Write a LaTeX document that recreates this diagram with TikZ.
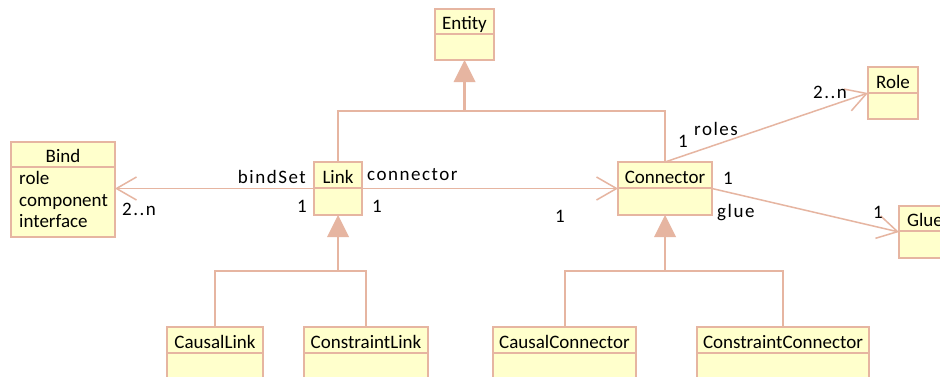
\documentclass[tikz,border=0pt]{standalone}
\usepackage{fontspec}
\setmainfont{Carlito}
\newfontfamily\lblfont[LetterSpace=8]{Carlito}
\usetikzlibrary{arrows.meta}
\definecolor{edgecol}{HTML}{E6B5A1}
\definecolor{boxfill}{HTML}{FFFFCC}
\tikzset{
 clsbox/.style={draw=edgecol, fill=boxfill, line width=1.8pt, inner sep=0pt, outer sep=0pt},
 divline/.style={draw=edgecol, line width=1.8pt},
 clstext/.style={font=\fontsize{19}{22}\selectfont, inner sep=0pt, anchor=base},
 attrtext/.style={font=\fontsize{19}{22}\selectfont, inner sep=0pt, anchor=base west},
 lbl/.style={font=\fontsize{19}{22}\selectfont\lblfont, inner sep=0pt},
 assoc/.style={draw=edgecol, line width=1.5pt, -{Straight Barb[length=20pt,width=23pt,line width=1.5pt]}},
 genbar/.style={draw=edgecol, line width=2pt},
 genstem/.style={draw=edgecol, line width=2.8pt},
 gentri/.style={fill=edgecol},
}
\newcommand{\umlclass}[7]{%
 \node[clsbox, minimum width=#4pt, minimum height=#5pt] (#1) at ({#2+#4/2},{#3+#5/2}) {};
 \draw[divline] ({#2},{#3+#6}) -- ({#2+#4},{#3+#6});
 \node[clstext] (#1-title) at ({#2+#4/2},{#3+#6-5}) {#7};
}
\begin{document}
\begin{tikzpicture}[x=1pt,y=-1pt]
\useasboundingbox (0,0) rectangle (940,376);
\clip (0,0) rectangle (940,376);
\fill[white] (0,0) rectangle (940,376);

\umlclass{entity}{435}{9}{59}{51}{25}{Entity}
\umlclass{link}{314}{162}{48}{53}{26}{Link}
\umlclass{connector}{618}{162}{94}{53}{26}{Connector}
\umlclass{bind}{11}{142}{104}{95}{25}{Bind}
\umlclass{role}{868}{67}{50}{52}{26}{Role}
\umlclass{glue}{899}{206}{52}{52}{25}{Glue}
\umlclass{causallink}{167}{327}{96}{60}{26}{CausalLink}
\umlclass{constraintlink}{304}{327}{124}{60}{26}{ConstraintLink}
\umlclass{causalconnector}{493}{327}{143}{60}{26}{CausalConnector}
\umlclass{constraintconnector}{697}{327}{172}{60}{26}{ConstraintConnector}

\node[attrtext] (bind-a1) at (19,184.5) {role};
\node[attrtext] (bind-a2) at (19,206) {component};
\node[attrtext] (bind-a3) at (19,227) {interface};

% generalizations
\fill[gentri] (entity.south) -- ++(-11,22) -- ++(22,0) -- cycle;
\draw[genstem] ([yshift=-22pt]entity.south) -- ++(0,29) coordinate (ejoin);
\draw[genbar] (link.north) |- (ejoin) -| (connector.north);

\fill[gentri] (link.south) -- ++(-11,22) -- ++(22,0) -- cycle;
\draw[genstem] ([yshift=-22pt]link.south) -- ++(0,34) coordinate (ljoin);
\draw[genbar] (causallink.north) |- (ljoin) -| (constraintlink.north);

\fill[gentri] (connector.south) -- ++(-11,22) -- ++(22,0) -- cycle;
\draw[genstem] ([yshift=-22pt]connector.south) -- ++(0,34) coordinate (cjoin);
\draw[genbar] (causalconnector.north) |- (cjoin) -| (constraintconnector.north);

% associations
\draw[assoc] (link.west) -- (link.west -| bind.east);
\draw[assoc] (link.east) -- (connector.west);
\draw[assoc] (connector.north) -- (role.west);
\draw[assoc] (connector.east) -- (glue.west);

% labels
\node[lbl, anchor=base east] (l-bindset) at (306,183) {bindSet};
\node[lbl, anchor=base] (l-b1) at (302,212) {1};
\node[lbl, anchor=base west] (l-b2) at (122,215) {2..n};
\node[lbl, anchor=base west] (l-conn) at (367,180) {connector};
\node[lbl, anchor=base] (l-c1) at (377,212) {1};
\node[lbl, anchor=base] (l-c2) at (560,222) {1};
\node[lbl, anchor=base west] (l-roles) at (694,135) {roles};
\node[lbl, anchor=base] (l-r1) at (683,147) {1};
\node[lbl, anchor=base west] (l-r2) at (813,98) {2..n};
\node[lbl, anchor=base] (l-g1) at (728,184) {1};
\node[lbl, anchor=base west] (l-glue) at (717,217) {glue};
\node[lbl, anchor=base] (l-g2) at (878,218) {1};
\end{tikzpicture}
\end{document}
